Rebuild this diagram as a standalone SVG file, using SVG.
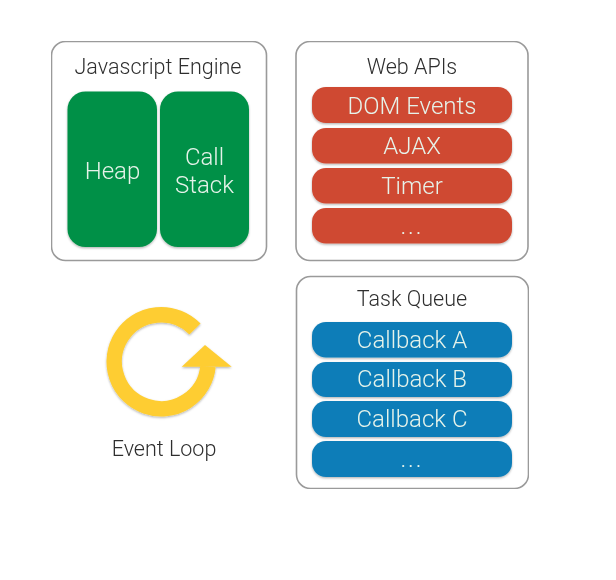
<svg xmlns="http://www.w3.org/2000/svg" width="616" height="580" viewBox="0 0 616 580">
<style>
text{font-family:"Roboto","Liberation Sans",sans-serif;font-weight:300;text-anchor:middle}
.box{fill:#fff;stroke:#9a9a9a;stroke-width:1.6}
.title{fill:#2e2e2e;font-size:21.5px}
.lab{fill:#e6f3ea;font-size:24px}
.green{fill:#069046;filter:url(#s)}
.red{fill:#cf4a33;filter:url(#s)}
.blue{fill:#0a7db8;filter:url(#s)}
</style>
<defs>
<filter id="s" x="-10%" y="-20%" width="120%" height="140%"><feDropShadow dx="0" dy="1.2" stdDeviation="1" flood-color="#000" flood-opacity="0.3"/></filter>
<filter id="soft" x="0" y="0" width="100%" height="100%"><feGaussianBlur stdDeviation="0.45"/></filter>
</defs>
<rect width="616" height="580" fill="#fff"/>
<g filter="url(#soft)">
<g id="engine">
<rect class="box" x="51.5" y="41.5" width="215" height="219" rx="14"/>
<text class="title" x="158" y="74" textLength="167" lengthAdjust="spacingAndGlyphs">Javascript Engine</text>
<g id="heap"><rect class="green" x="67.5" y="91.5" width="89.5" height="155.5" rx="18"/><text class="lab" x="112.5" y="179">Heap</text></g>
<g id="stack"><rect class="green" x="160" y="91.5" width="89" height="155.5" rx="18"/><text class="lab" x="204.5" y="165">Call</text><text class="lab" x="204.5" y="193">Stack</text></g>
</g>
<g id="webapis">
<rect class="box" x="296" y="41.5" width="232" height="219" rx="14"/>
<text class="title" x="412" y="74">Web APIs</text>
<g id="dom"><rect class="red" x="312" y="87" width="200" height="36" rx="14"/><text class="lab" x="412" y="114">DOM Events</text></g>
<g id="ajax"><rect class="red" x="312" y="128" width="200" height="35.5" rx="14"/><text class="lab" x="412" y="154">AJAX</text></g>
<g id="timer"><rect class="red" x="312" y="168" width="200" height="35.5" rx="14"/><text class="lab" x="412" y="194">Timer</text></g>
<g id="more-api"><rect class="red" x="312" y="208" width="200" height="35.5" rx="14"/><text class="lab" x="412" y="234" style="letter-spacing:2px">...</text></g>
</g>
<g id="taskqueue">
<rect class="box" x="296.5" y="276.5" width="232" height="212" rx="14"/>
<text class="title" x="412" y="306">Task Queue</text>
<g id="cba"><rect class="blue" x="312" y="322" width="200" height="35.5" rx="14"/><text class="lab" x="412" y="348">Callback A</text></g>
<g id="cbb"><rect class="blue" x="312" y="362" width="200" height="35" rx="14"/><text class="lab" x="412" y="387">Callback B</text></g>
<g id="cbc"><rect class="blue" x="312" y="401" width="200" height="36" rx="14"/><text class="lab" x="412" y="427">Callback C</text></g>
<g id="more-cb"><rect class="blue" x="312" y="441" width="200" height="36" rx="14"/><text class="lab" x="412" y="467" style="letter-spacing:2px">...</text></g>
</g>
<g id="eventloop">
<g filter="url(#s)">
<path d="M195,329 A47,47 0 1 0 208,366.500" fill="none" stroke="#fecd33" stroke-width="15.5"/>
<polygon points="205,345 231.700,366.700 181.700,366.700" fill="#fecd33"/>
</g>
<text class="title" x="164" y="456">Event Loop</text>
</g>
</g>
<g id="connectors"/>
</svg>
